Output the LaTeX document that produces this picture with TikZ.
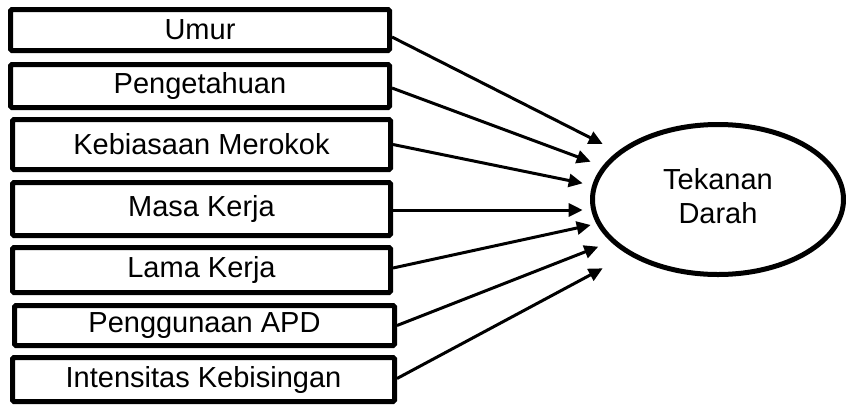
\documentclass[tikz,border=0pt]{standalone}
\usepackage{fontspec}
\setmainfont{Liberation Sans}
\usetikzlibrary{arrows.meta,shapes.geometric}
\tikzset{
  varbox/.style={draw, line width=5pt, rounded corners=1.5pt, inner sep=0pt, align=center,
    font=\fontsize{29}{34}\selectfont},
  outbox/.style={draw, ellipse, line width=5pt, inner sep=0pt, align=center,
    minimum width=251pt, minimum height=150pt, font=\fontsize{29}{34}\selectfont},
  link/.style={line width=3pt, -{Triangle[length=14pt,width=13pt]}}
}
\begin{document}
\begin{tikzpicture}[x=1pt,y=-1pt]
\useasboundingbox (0,0) rectangle (846,405);
\node[varbox, minimum width=379pt, minimum height=41pt] (b1) at (200,30) {Umur};
\node[varbox, minimum width=379pt, minimum height=43pt] (b2) at (200,86) {Pengetahuan};
\node[varbox, minimum width=378pt, minimum height=50pt] (b3) at (201.5,144.5) {Kebiasaan Merokok};
\node[varbox, minimum width=378pt, minimum height=53pt] (b4) at (201.5,209) {Masa Kerja};
\node[varbox, minimum width=378pt, minimum height=45pt] (b5) at (201.5,270) {Lama Kerja};
\node[varbox, minimum width=380pt, minimum height=40pt] (b6) at (204.5,325.5) {Penggunaan APD};
\node[varbox, minimum width=382pt, minimum height=44pt] (b7) at (203.5,379.5) {Intensitas Kebisingan};
\node[outbox] (td) at (718,199.5) {\raisebox{-5pt}{\begin{tabular}{@{}c@{}}Tekanan\\Darah\end{tabular}}};
\coordinate (t1) at (602.7,144);
\coordinate (t2) at (590.7,161.7);
\coordinate (t3) at (582.7,183.3);
\coordinate (t4) at (582.7,210);
\coordinate (t5) at (590.7,225);
\coordinate (t6) at (598.3,246.7);
\coordinate (t7) at (602.7,268.3);
\draw[link] ([yshift=-7pt]b1.east) -- (t1);
\draw[link] ([yshift=-2pt]b2.east) -- (t2);
\draw[link] (b3.east) -- (t3);
\draw[link] ([yshift=-1pt]b4.east) -- (t4);
\draw[link] ([yshift=2pt]b5.east) -- (t5);
\draw[link] (b6.east) -- (t6);
\draw[link] ([yshift=1pt]b7.east) -- (t7);
\end{tikzpicture}
\end{document}
